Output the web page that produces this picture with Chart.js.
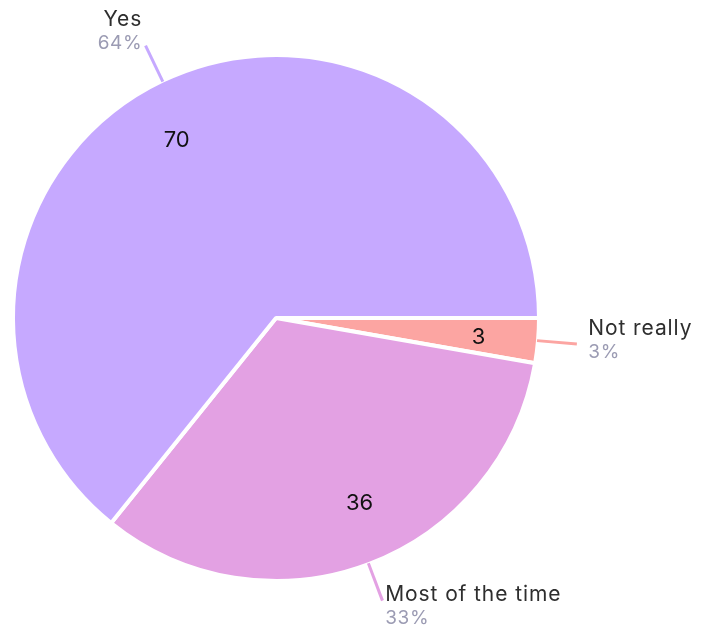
<!DOCTYPE html>
<html>
<head>
<meta charset="utf-8">
<script src="https://cdn.jsdelivr.net/npm/chart.js@4"></script>
<style>
  html, body { margin: 0; padding: 0; background: #ffffff; }
  #c { display: block; }
</style>
</head>
<body>
<canvas id="c" width="709" height="637"></canvas>
<script>
const categories = ["Not really", "Most of the time", "Yes"];
const counts = [3, 36, 70];
const sliceColors = ["#fca5a2", "#e3a1e3", "#c6a9ff"];

const FONT = "Inter, 'Open Sans', sans-serif";
const total = counts.reduce((a, b) => a + b, 0);

const labelPlugin = {
  id: 'outLabels',
  afterDatasetsDraw(chart) {
    const ctx = chart.ctx;
    const meta = chart.getDatasetMeta(0);
    meta.data.forEach((arc, i) => {
      const p = arc.getProps(['x', 'y', 'startAngle', 'endAngle', 'outerRadius'], true);
      const span = p.endAngle - p.startAngle;
      const mid = (p.startAngle + p.endAngle) / 2;
      const cos = Math.cos(mid), sin = Math.sin(mid);
      const R = p.outerRadius - 2;
      // value label inside
      const va = span > 0.5 ? mid - 3.6 * Math.PI / 180 : mid + 0.6 * Math.PI / 180;
      const rv = R * 0.78;
      ctx.save();
      ctx.font = "22px " + FONT;
      ctx.fillStyle = "#111111";
      ctx.textAlign = "center";
      ctx.textBaseline = "middle";
      ctx.fillText(String(counts[i]), p.x + Math.cos(va) * rv, p.y + Math.sin(va) * rv);
      ctx.restore();
      // leader line
      const r1 = R + 1, r2 = R + 41;
      const ex = p.x + cos * r2, ey = p.y + sin * r2;
      ctx.save();
      ctx.strokeStyle = sliceColors[i];
      ctx.lineWidth = 3;
      ctx.beginPath();
      ctx.moveTo(p.x + cos * r1, p.y + sin * r1);
      ctx.lineTo(ex, ey);
      ctx.stroke();
      ctx.restore();
      // text block
      const right = cos >= 0;
      const gap = 1.5 + 10 * cos * cos;
      const tx = right ? ex + gap : ex - gap;
      const base = ey - 9.7 + 10.9 * sin;
      const pct = Math.round(counts[i] / total * 100) + "%";
      ctx.save();
      ctx.textAlign = right ? "left" : "right";
      ctx.textBaseline = "alphabetic";
      ctx.font = "21px " + FONT;
      ctx.letterSpacing = "0.9px";
      ctx.fillStyle = "#2e2e2e";
      ctx.fillText(categories[i], tx, base);
      ctx.font = "19px " + FONT;
      ctx.letterSpacing = "0.6px";
      ctx.fillStyle = "#9b9bb3";
      ctx.fillText(pct, tx, base + 23);
      ctx.restore();
    });
  }
};

new Chart(document.getElementById('c'), {
  type: 'pie',
  data: {
    labels: categories,
    datasets: [{
      data: counts,
      backgroundColor: sliceColors,
      borderColor: "#ffffff",
      borderWidth: 4
    }]
  },
  options: {
    responsive: false,
    animation: false,
    rotation: 90,
    layout: { padding: { top: 53, bottom: 54, left: 11, right: 168 } },
    plugins: {
      legend: { display: false },
      tooltip: { enabled: false }
    }
  },
  plugins: [labelPlugin]
});
</script>
</body>
</html>
